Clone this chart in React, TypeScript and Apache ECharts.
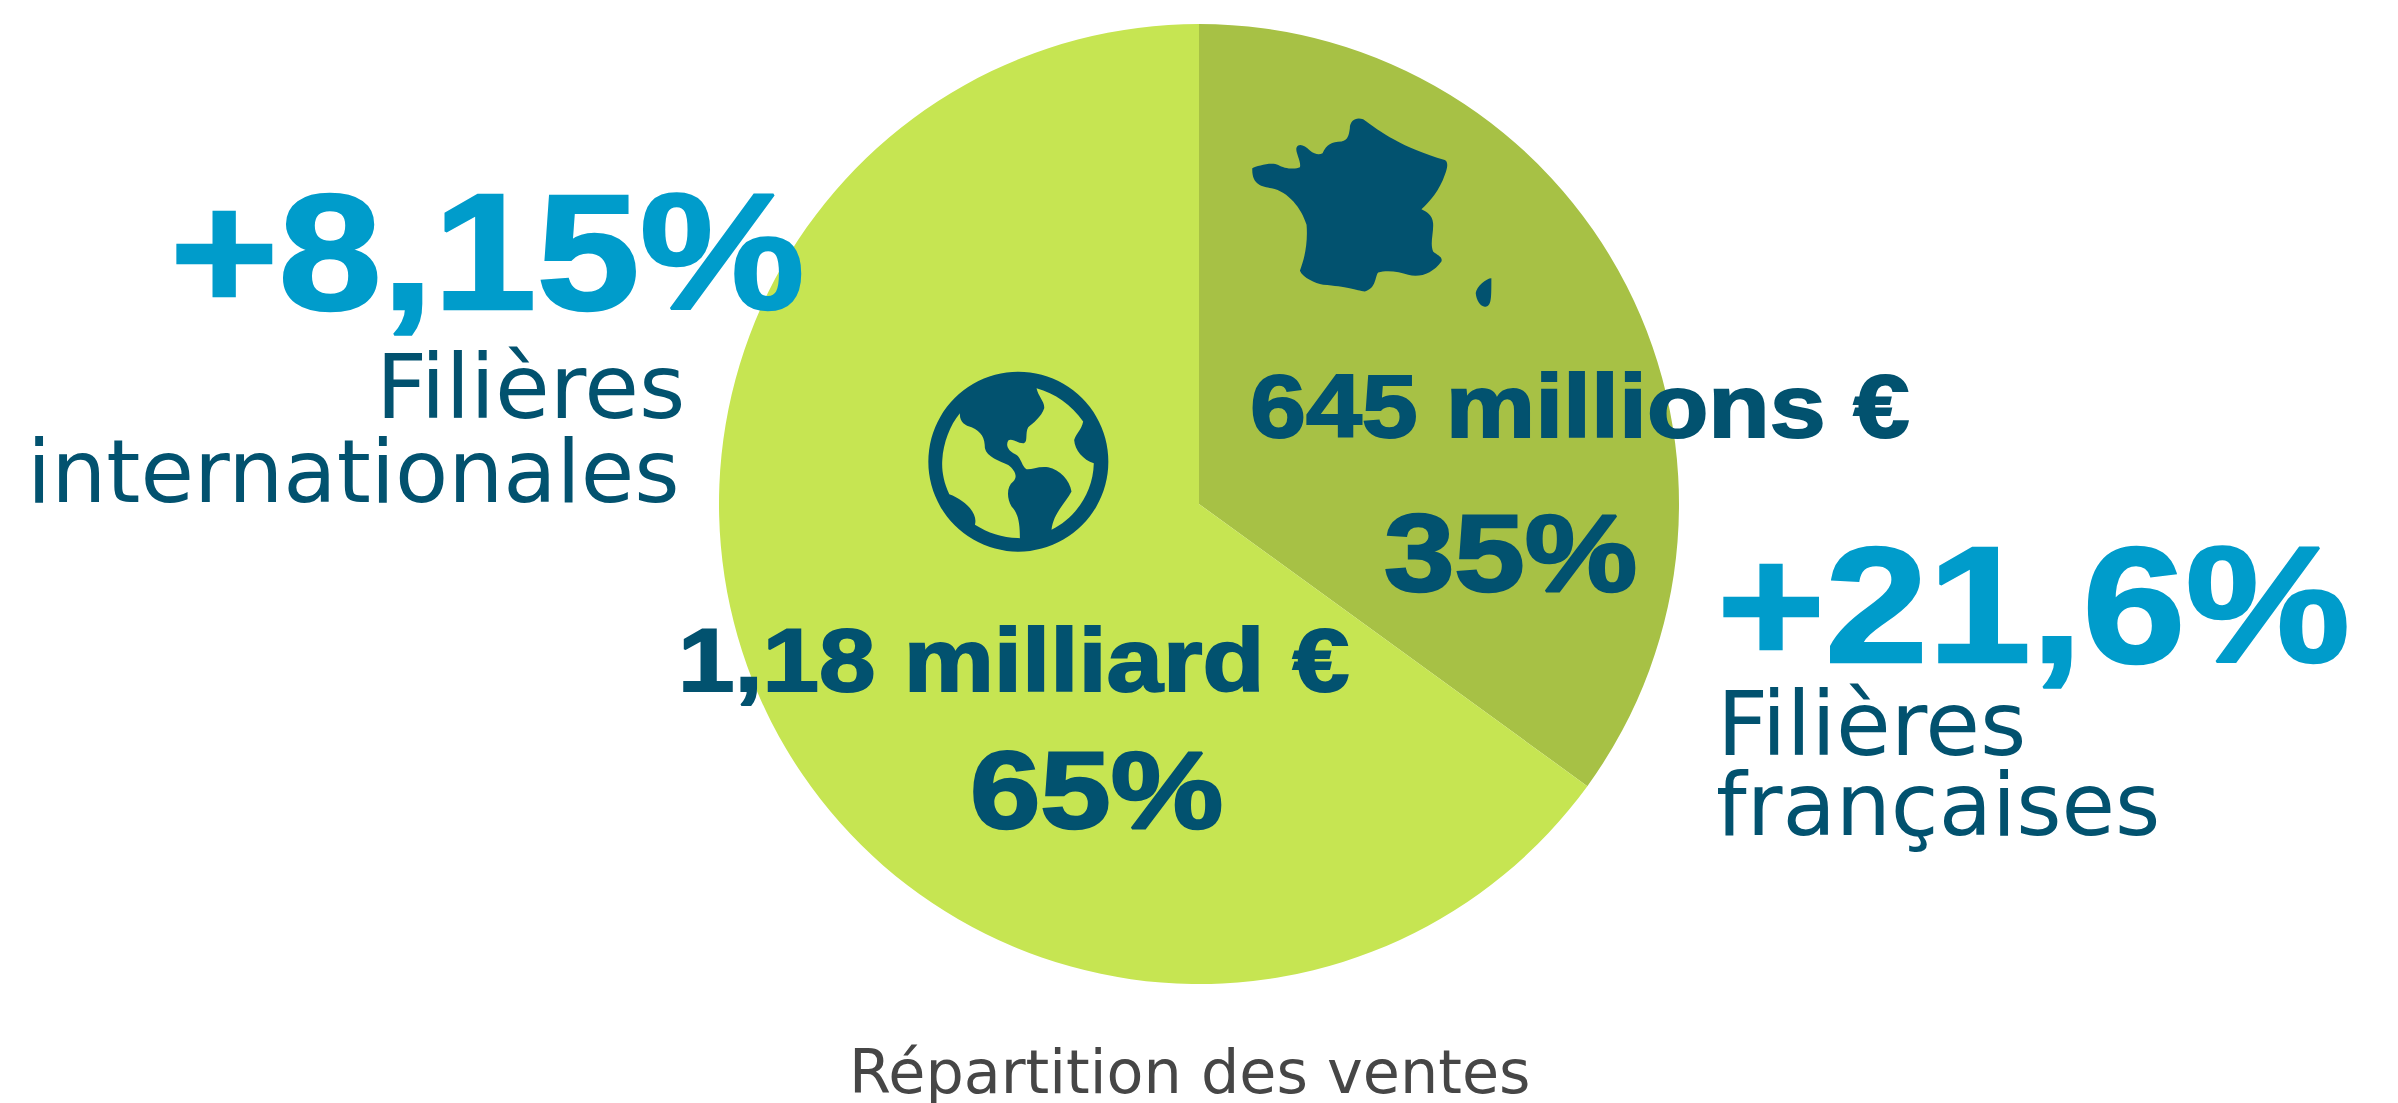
import React, { useEffect, useRef } from "react";
import * as echarts from "echarts";

const categories = ["Filières françaises", "Filières internationales"];
const shares = [35, 65];
const sliceColors = ["#A7C145", "#C6E552"];
const titleText = "Répartition des ventes";
const franceLabels = ["645 millions €", "35%"];
const worldLabels = ["1,18 milliard €", "65%"];
const growthLabels = ["+21,6%", "+8,15%"];

const FRANCE =
  "M157 265 C170 258 215 245 235 255 C250 265 285 270 300 262 C305 245 285 215 290 203 C298 188 315 198 330 212 C345 225 360 225 368 220 C380 195 395 185 425 185 C445 180 447 165 450 145 C450 120 470 110 490 118 C540 155 610 205 735 240 C745 245 745 260 735 285 C720 330 690 365 665 388 C680 395 698 405 700 430 C702 460 690 490 700 515 C710 525 730 530 725 545 C700 580 660 595 625 585 C600 575 560 570 535 578 C525 590 530 625 495 635 C470 632 440 620 370 615 C345 610 310 595 300 573 C310 545 325 500 320 435 C305 385 265 335 215 325 C185 320 155 315 157 265 Z M875 595 C860 595 830 620 828 640 C830 665 845 685 860 680 C875 675 875 655 875 595 Z";
const OCEAN_W =
  "M180 190 C178 215 195 228 215 232 C245 245 255 265 255 295 C260 320 300 335 325 345 C345 360 355 380 340 395 C320 410 320 445 335 470 C355 490 360 520 360 565 C310 565 265 550 225 525 C235 490 195 450 148 433 C130 395 125 360 127 330 C130 280 150 225 180 190 Z";
const OCEAN_E =
  "M410 115 C415 140 435 155 433 175 C425 200 400 220 385 232 C375 250 385 275 372 280 C355 282 335 262 325 272 C315 290 330 305 345 312 C365 322 365 350 380 358 C395 360 415 348 445 352 C480 360 510 390 515 425 C500 455 460 490 455 540 C525 505 580 430 582 340 C550 330 525 300 523 270 C530 250 545 240 550 215 C515 165 465 130 410 115 Z";

echarts.graphic.registerShape("france", (echarts.graphic as any).extendPath(FRANCE, {}));
echarts.graphic.registerShape("oceanW", (echarts.graphic as any).extendPath(OCEAN_W, {}));
echarts.graphic.registerShape("oceanE", (echarts.graphic as any).extendPath(OCEAN_E, {}));

const DARK = "#02526F";
const BLUE = "#009CCB";
const BOLD = "Liberation Sans";
const REG = "DejaVu Sans";

function txt(text: string, x: number, y: number, size: number, family: string, weight: string, fill: string, sx = 1, stroke = 0) {
  return {
    type: "text",
    x,
    y,
    scaleX: sx,
    z: 10,
    style: {
      text,
      x: 0,
      y: 0,
      fill,
      textAlign: "left",
      textVerticalAlign: "middle",
      font: `${weight} ${size}px "${family}"`,
      ...(stroke ? { stroke: fill, lineWidth: stroke } : {}),
    },
  };
}

export default function App() {
  const ref = useRef<HTMLDivElement>(null);
  useEffect(() => {
    document.body.style.margin = "0";
    const chart = echarts.init(ref.current!, null, { renderer: "svg" });
    chart.setOption({
      animation: false,
      backgroundColor: "#ffffff",
      series: [
        {
          type: "pie",
          center: [1199, 504],
          radius: [0, 480],
          startAngle: 90,
          clockwise: true,
          silent: true,
          label: { show: false },
          labelLine: { show: false },
          data: categories.map((name, i) => ({ name, value: shares[i], itemStyle: { color: sliceColors[i] } })),
        },
      ],
      graphic: [
        { type: "france", x: 1200, y: 80, scaleX: 1 / 3, scaleY: 1 / 3, z: 5, style: { fill: DARK } },
        { type: "circle", z: 5, shape: { cx: 900 + 355 / 3, cy: 350 + 335 / 3, r: 90 }, style: { fill: DARK } },
        { type: "oceanW", x: 900, y: 350, scaleX: 1 / 3, scaleY: 1 / 3, z: 6, style: { fill: sliceColors[1] } },
        { type: "oceanE", x: 900, y: 350, scaleX: 1 / 3, scaleY: 1 / 3, z: 6, style: { fill: sliceColors[1] } },
        txt(growthLabels[1], 170, 252, 165, BOLD, "bold", BLUE, 1.125, 2.5),
        txt("Filières", 376, 387, 89, REG, "normal", DARK),
        txt("internationales", 27, 472, 87, REG, "normal", DARK),
        txt(growthLabels[0], 1717, 605, 165, BOLD, "bold", BLUE, 1.122, 2.5),
        txt("Filières", 1717, 724, 89, REG, "normal", DARK),
        txt("françaises", 1716, 805, 87, REG, "normal", DARK),
        txt(franceLabels[0], 1250, 406, 89, BOLD, "bold", DARK, 1.13, 2),
        txt(franceLabels[1], 1384, 553, 110, BOLD, "bold", DARK, 1.15, 2.5),
        txt(worldLabels[0], 678, 660, 89, BOLD, "bold", DARK, 1.14, 2),
        txt(worldLabels[1], 970, 790, 110, BOLD, "bold", DARK, 1.15, 2.5),
        txt(titleText, 849, 1072, 60.4, REG, "normal", "#464646"),
      ],
    });
    return () => chart.dispose();
  }, []);
  return <div ref={ref} style={{ width: 2398, height: 1103 }} />;
}
